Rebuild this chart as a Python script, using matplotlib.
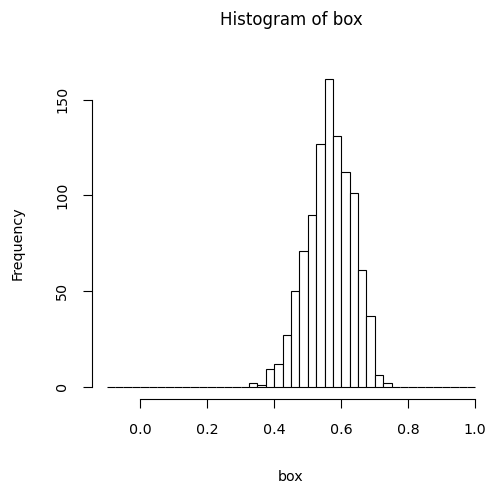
import numpy as np
import matplotlib.pyplot as plt

# histogram of box: 44 bins of width 0.025 from -0.1 to 1.0
bin_start = -0.1
bin_width = 0.025
counts = [0] * 17 + [2, 1, 9, 12, 27, 50, 71, 90, 127, 161, 131, 112, 101,
                     61, 37, 6, 2] + [0] * 10
x_ticks = [0.0, 0.2, 0.4, 0.6, 0.8, 1.0]
y_ticks = [0, 50, 100, 150]

lefts = bin_start + bin_width * np.arange(len(counts))

fig = plt.figure(figsize=(4.9, 4.86), dpi=100)
ax = fig.add_axes([92 / 490, (486 - 399) / 486, 398 / 490, (399 - 66.4) / 486])

ax.bar(lefts, counts, width=bin_width, align="edge",
       facecolor="white", edgecolor="black", linewidth=0.8)

ax.set_xlim(-0.144, 1.044)
ax.set_ylim(-6.44, 167.44)

for side in ("top", "right"):
    ax.spines[side].set_visible(False)
ax.spines["left"].set_bounds(0, 150)
ax.spines["bottom"].set_bounds(0, 1)
ax.spines["left"].set_linewidth(0.8)
ax.spines["bottom"].set_linewidth(0.8)

ax.set_xticks(x_ticks)
ax.set_xticklabels(["%.1f" % v for v in x_ticks])
ax.set_yticks(y_ticks)
ax.set_yticklabels([str(v) for v in y_ticks], rotation=90, va="center")
ax.tick_params(length=6.5, width=0.8, labelsize=10.3)
ax.tick_params(axis="x", pad=11)
ax.tick_params(axis="y", pad=10)

fig.text(291 / 490, 1 - 20 / 486, "Histogram of box", ha="center",
         va="center", fontsize=12)
fig.text(291 / 490, 1 - 477 / 486, "box", ha="center", va="center",
         fontsize=10.3)
fig.text(18 / 490, 1 - 243 / 486, "Frequency", ha="center", va="center",
         rotation=90, fontsize=10.3)

fig.savefig("out.png", dpi=100)
